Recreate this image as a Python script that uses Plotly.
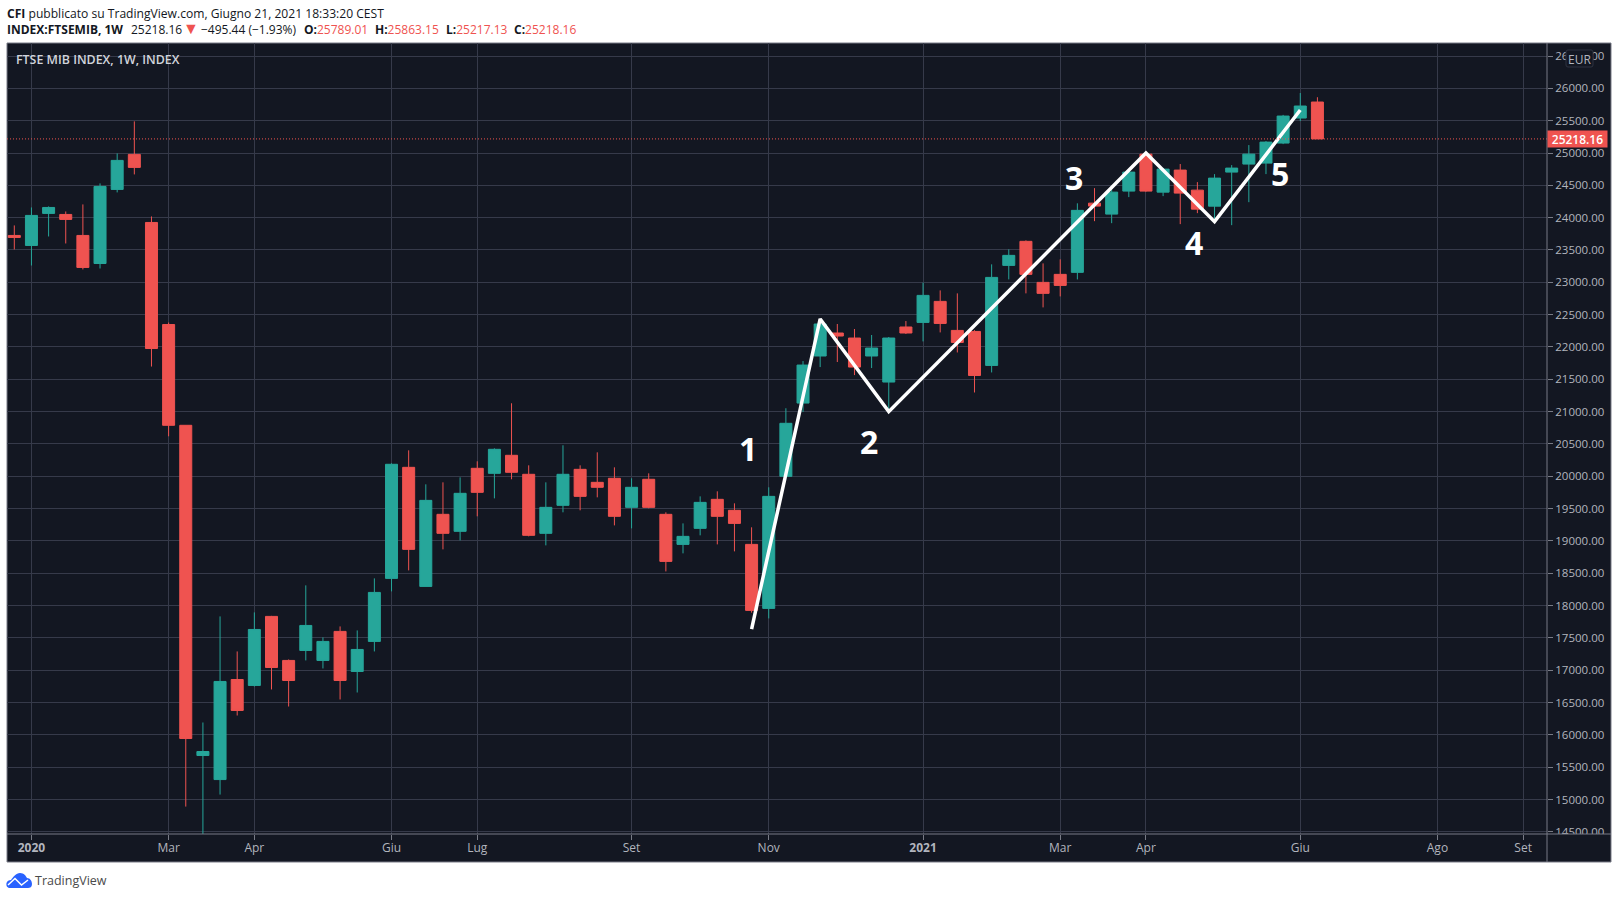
import plotly.graph_objects as go

# Weekly FTSE MIB candles, oldest first; bars are addressed by their week number
opens = [23725, 23570, 24066, 24050, 23725, 23291, 24437, 24979, 23926, 22347,
         20788, 15680, 15308, 16856, 16764, 17832, 17151, 17305, 17151, 17600,
         16980, 17445, 18420, 20138, 18296, 19411, 19148, 20123, 20045, 20324,
         20030, 19117, 19550, 20107, 19906, 19968, 19519, 19953, 19411, 18946,
         19194, 19643, 19473, 18946, 17956, 19999, 21132, 21860, 22216, 22138,
         21860, 21457, 22309, 22380, 22705, 22256, 22240, 21714, 23262, 23634,
         22999, 23123, 23154, 24225, 24055, 24411, 24983, 24395, 24736, 24426,
         24178, 24705, 24829, 24844, 25154, 25541, 25789.01]
highs = [23880, 24158, 24174, 24096, 24205, 24530, 24994, 25490, 24019, 22378,
         20790, 16191, 17832, 17290, 17894, 17840, 17166, 18312, 17507, 17677,
         17615, 18420, 20200, 20401, 19875, 19906, 19983, 20231, 20432, 21129,
         20169, 19906, 20479, 20169, 20370, 20138, 19968, 20045, 19442, 19271,
         19689, 19767, 19581, 19210, 19829, 21052, 21782, 22400, 22355, 22278,
         22185, 22154, 22401, 22994, 22875, 22829, 22260, 23278, 23510, 23649,
         23293, 23355, 24222, 24457, 24430, 24730, 25010, 24770, 24830, 24550,
         24674, 24813, 25123, 25185, 25590, 25928, 25863.15]
lows = [23508, 23260, 23709, 23601, 23199, 23214, 24391, 24669, 21697, 20618,
        14890, 14440, 15076, 16299, 16748, 16702, 16438, 17151, 17027, 16547,
        16655, 17290, 18219, 18544, 18296, 18869, 19008, 19380, 19658, 19953,
        19070, 18931, 19442, 19473, 19674, 19240, 19194, 19504, 18528, 18807,
        19086, 18946, 18838, 17890, 17801, 19990, 20993, 21689, 21767, 21565,
        21674, 21024, 22200, 22086, 22225, 21915, 21296, 21606, 23045, 22829,
        22612, 22782, 23045, 23946, 23915, 24318, 24400, 24333, 23900, 24070,
        23970, 23884, 24240, 24674, 25138, 25494, 25217.13]
closes = [23694, 24035, 24158, 23973, 23230, 24483, 24886, 24778, 21976, 20788,
          15943, 15742, 16826, 16377, 17630, 17042, 16841, 17692, 17445, 16841,
          17321, 18203, 20185, 18869, 19627, 19117, 19736, 19751, 20417, 20061,
          19086, 19519, 20030, 19689, 19829, 19380, 19829, 19519, 18683, 19070,
          19596, 19380, 19271, 17925, 19689, 20819, 21720, 22355, 22169, 21689,
          21983, 22138, 22216, 22798, 22364, 22070, 21559, 23076, 23417, 23123,
          22829, 22952, 24113, 24179, 24395, 24705, 24411, 24751, 24380, 24132,
          24612, 24767, 24983, 25169, 25572, 25727, 25218.16]
weeks = list(range(len(closes)))

# Month labels along the time scale and the week each one falls on
month_weeks = [1, 9, 14, 22, 27, 36, 44, 53, 61, 66, 75, 83, 88]
month_labels = ["<b>2020</b>", "Mar", "Apr", "Giu", "Lug", "Set", "Nov",
                "<b>2021</b>", "Mar", "Apr", "Giu", "Ago", "Set"]

# Elliott wave count drawn over the candles
wave_weeks = [43, 47, 51, 66, 70, 75]
wave_prices = [17637, 22433, 21000, 25000, 23938, 25666]
wave_label_weeks = [42.81, 49.85, 61.83, 68.82, 73.84]
wave_label_prices = [20432, 20534, 24619, 23610, 24690]
wave_labels = ["1", "2", "3", "4", "5"]

last_price = 25218.16

UP = "#26a69a"
DOWN = "#ef5350"
PANE = "#131722"
GRID = "#363a4a"
EDGE = "#787b86"
AXIS_TEXT = "#b2b5be"
FONT = "Open Sans"

W, H = 1618, 899
L, R, T, B = 7, 1547, 43, 834          # price pane, in page pixels
FRAME_R, FRAME_B = 1611, 862           # outer edge of the dark frame


def px(x):
    return (x - L) / (R - L)


def py(y):
    return (B - y) / (B - T)


def page_path(commands):
    """Build a paper-referenced SVG path from page-pixel commands."""
    parts = []
    for cmd, *pts in commands:
        coords = " ".join("{} {}".format(px(a), py(b)) for a, b in pts)
        parts.append((cmd + " " + coords).strip())
    return " ".join(parts)


fig = go.Figure()

fig.add_trace(go.Candlestick(
    x=weeks, open=opens, high=highs, low=lows, close=closes,
    increasing=dict(line=dict(color=UP, width=1), fillcolor=UP),
    decreasing=dict(line=dict(color=DOWN, width=1), fillcolor=DOWN),
    whiskerwidth=0, showlegend=False, hoverinfo="skip",
))

fig.add_trace(go.Scatter(
    x=wave_weeks, y=wave_prices, mode="lines",
    line=dict(color="white", width=3.5, shape="linear"),
    showlegend=False, hoverinfo="skip",
))

cloud = [("M", (10, 888)),
         ("C", (7, 888), (6, 885.5), (6.5, 883)),
         ("C", (7, 881), (9, 880), (11, 880)),
         ("C", (13, 877), (16, 873), (20, 873)),
         ("C", (24, 873), (26, 876), (27, 878)),
         ("C", (30, 878), (32, 881), (32, 884)),
         ("C", (32, 887), (30, 888), (28, 888)),
         ("Z",)]
cloud_zigzag = [("M", (8, 885)), ("L", (15, 878.5)), ("L", (21.5, 885)), ("L", (28, 880))]
badge = [("M", (1568, 50)), ("L", (1591, 50)), ("Q", (1593, 50), (1593, 52)),
         ("L", (1593, 65)), ("Q", (1593, 67), (1591, 67)), ("L", (1568, 67)),
         ("Q", (1566, 67), (1566, 65)), ("L", (1566, 52)), ("Q", (1566, 50), (1568, 50)), ("Z",)]

shapes = [
    # dark frame around the pane and both scales
    dict(type="rect", xref="paper", yref="paper", layer="below",
         x0=0, x1=px(FRAME_R), y0=py(FRAME_B), y1=1,
         fillcolor=PANE, line=dict(color=EDGE, width=1)),
    # last price line
    dict(type="line", xref="paper", yref="y", layer="above",
         x0=0, x1=1, y0=last_price, y1=last_price,
         line=dict(color=DOWN, width=1, dash="1px,2px")),
    # the price scale stops at the time scale, cutting its lowest label
    dict(type="rect", xref="paper", yref="paper", layer="above",
         x0=1, x1=px(FRAME_R - 1), y0=py(FRAME_B - 1), y1=0,
         fillcolor=PANE, line=dict(width=0)),
    # separator between the scales
    dict(type="line", xref="paper", yref="paper", layer="above",
         x0=1, x1=1, y0=py(FRAME_B), y1=1, line=dict(color=EDGE, width=1)),
    dict(type="line", xref="paper", yref="paper", layer="above",
         x0=0, x1=px(FRAME_R), y0=0, y1=0, line=dict(color=EDGE, width=1)),
    # currency badge
    dict(type="path", xref="paper", yref="paper", layer="above", path=page_path(badge),
         fillcolor=PANE, line=dict(color="#2f3341", width=1)),
    # TradingView cloud mark
    dict(type="path", xref="paper", yref="paper", layer="above", path=page_path(cloud),
         fillcolor="#2962ff", line=dict(width=0)),
    dict(type="path", xref="paper", yref="paper", layer="above", path=page_path(cloud_zigzag),
         line=dict(color="white", width=1.5)),
]

annotations = []


def note(text, x, y, size=12, color="#131722", anchor="left", xref="paper", yref="paper", weight=None, **kw):
    font = dict(family=FONT, size=size, color=color)
    if weight:
        font["weight"] = weight
    annotations.append(dict(
        text=text, x=x, y=y, xref=xref, yref=yref, showarrow=False,
        xanchor=anchor, yanchor="middle", align="left",
        font=font, borderpad=0, **kw))


# header lines above the pane
note("<b>CFI</b> pubblicato su TradingView.com, Giugno 21, 2021 18:33:20 CEST", px(6), py(13), size=12.1)
note("<b>INDEX:FTSEMIB, 1W</b>", px(6), py(30), size=12)
note("25218.16", px(130), py(30), size=12)
note("▼", px(182), py(28), size=16, color=DOWN)
note("−495.44 (−1.93%)", px(200), py(30), size=12)
note('<b>O:</b><span style="color:#ef5350">25789.01</span>', px(303), py(30), size=12)
note('<b>H:</b><span style="color:#ef5350">25863.15</span>', px(374), py(30), size=12)
note('<b>L:</b><span style="color:#ef5350">25217.13</span>', px(445), py(30), size=12)
note('<b>C:</b><span style="color:#ef5350">25218.16</span>', px(513), py(30), size=12)

# instrument title inside the pane
note("FTSE MIB INDEX, 1W, INDEX", px(15), py(60), size=12.4, color="#d1d4dc", weight=600)

# wave numbers
for wk, pr, lab in zip(wave_label_weeks, wave_label_prices, wave_labels):
    note("<b>{}</b>".format(lab), wk, pr, size=32, color="white", anchor="center", xref="x", yref="y")

# last price tag and currency badge on the scale
annotations.append(dict(
    text="25218.16", x=1, y=last_price, xref="paper", yref="y", showarrow=False,
    xanchor="left", yanchor="middle", width=59, height=16, align="center", valign="middle",
    bgcolor=DOWN, borderpad=0, font=dict(family=FONT, size=12, color="white", weight=600)))
note("EUR", px(1579.5), py(59), size=12, color=AXIS_TEXT, anchor="center")

# brand name under the frame
note("TradingView", px(34), py(880), size=12.5, color="#4a4a4a")

fig.update_layout(
    width=W, height=H,
    margin=dict(l=L, r=W - R, t=T, b=H - B, autoexpand=False),
    paper_bgcolor="white", plot_bgcolor=PANE,
    boxgap=0.3, boxgroupgap=0,
    font=dict(family=FONT, size=12, color=AXIS_TEXT),
    shapes=shapes, annotations=annotations,
    xaxis=dict(
        range=[-0.426, 89.39], rangeslider=dict(visible=False),
        tickmode="array", tickvals=month_weeks, ticktext=month_labels,
        ticks="outside", ticklen=5, tickcolor=EDGE, tickwidth=1, ticklabelstandoff=-2,
        showgrid=True, gridcolor=GRID, gridwidth=1, zeroline=False,
        showline=False, tickfont=dict(family=FONT, size=12, color=AXIS_TEXT),
    ),
    yaxis=dict(
        side="right", range=[14466, 26702], tick0=0, dtick=500, tickformat=".2f",
        ticks="outside", ticklen=5, tickcolor=EDGE, tickwidth=1,
        showgrid=True, gridcolor=GRID, gridwidth=1, zeroline=False,
        showline=False, tickfont=dict(family=FONT, size=11.5, color=AXIS_TEXT),
    ),
)

fig.write_html("out.html", config=dict(displayModeBar=False))
